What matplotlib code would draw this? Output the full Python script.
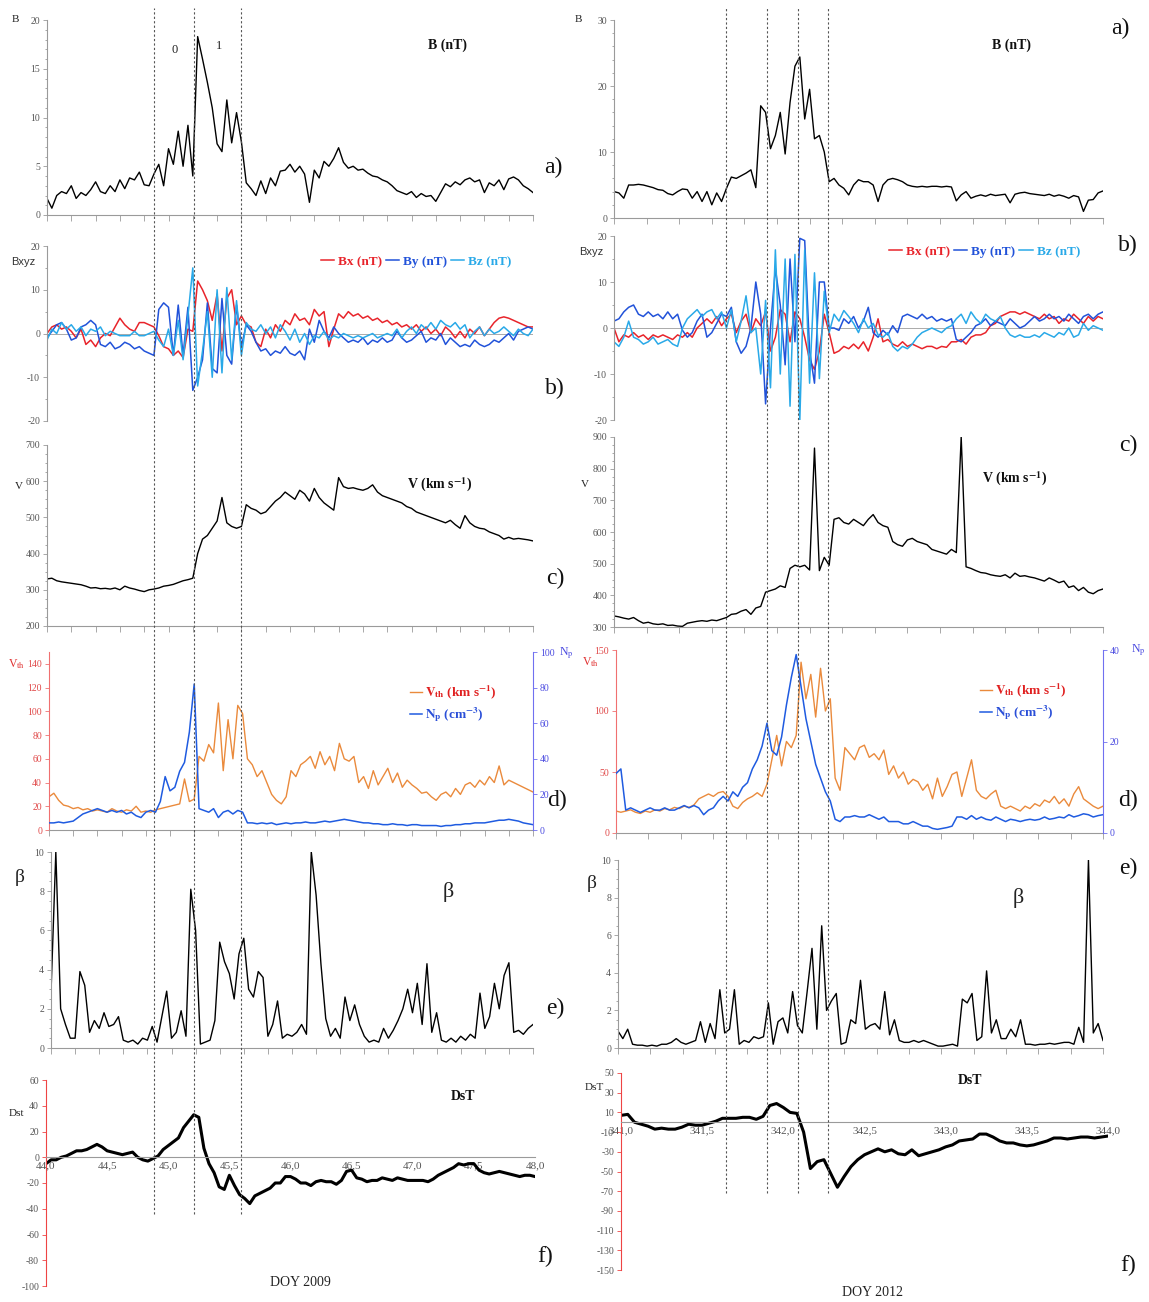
import numpy as np
import matplotlib
matplotlib.use("Agg")
import matplotlib.pyplot as plt
from matplotlib.lines import Line2D
from matplotlib.ticker import MultipleLocator, NullFormatter, FuncFormatter

# ---------------- data ----------------
# 2009 event, DOY 44.0 - 48.0, samples every 0.04 day
b_2009 = [1.7, 0.7, 2.0, 2.4, 2.2, 3.0, 1.7, 2.3, 2.0, 2.6,
          3.4, 2.4, 2.2, 3.0, 2.4, 3.6, 2.7, 3.8, 3.6, 4.4,
          3.1, 3.0, 4.2, 5.2, 3.0, 6.8, 5.2, 8.6, 5.0, 9.2,
          4.0, 18.3, 16.0, 13.6, 11.0, 7.3, 6.5, 11.8, 7.4, 10.5,
          7.5, 3.3, 2.7, 2.0, 3.5, 2.2, 3.8, 3.0, 4.5, 4.6,
          5.2, 4.4, 5.0, 4.2, 1.3, 4.6, 3.8, 5.5, 5.0, 5.8,
          6.9, 5.4, 4.8, 5.0, 4.6, 4.7, 4.3, 4.0, 3.9, 3.6,
          3.4, 3.0, 2.5, 2.3, 2.1, 2.4, 1.8, 2.2, 1.9, 2.0,
          1.4, 2.3, 3.2, 2.9, 3.4, 3.1, 3.6, 3.8, 3.4, 3.6,
          2.3, 3.3, 3.0, 3.6, 2.6, 3.7, 3.9, 3.6, 3.0, 2.7, 2.3]
bx_2009 = [0, 1.5, 2.0, 1.0, 1.5, 0.5, -1.0, 1.0, -2.5, -1.5,
           -3.0, -1.0, 0, -0.5, 1.5, 3.5, 2.0, 1.0, 0.5, 2.5,
           2.5, 2.0, 1.5, -0.5, -3.0, -3.5, -5.0, -4.0, -5.5, 1.0,
           0.5, 12.0, 10.0, 7.5, 3.0, 9.0, -4.0, 8.0, 10.0, 2.0,
           4.0, 2.0, 1.5, -2.0, -3.0, 1.0, -1.0, 2.0, 0.5, 3.0,
           2.0, 4.5, 3.0, 3.5, 2.0, 5.5, 4.0, 5.0, -3.0, 1.0,
           4.5, 3.5, 5.0, 4.0, 4.5, 3.5, 4.0, 3.0, 3.5, 2.5,
           3.0, 2.0, 2.5, 1.5, 2.0, 1.0, 2.0, 0.5, 1.5, 0,
           1.0, -0.5, 1.5, 0.5, -1.0, 0.5, -1.0, 1.0, 0, 1.5,
           -0.5, 1.0, 2.5, 3.5, 3.8, 3.5, 3.0, 2.5, 2.0, 1.5, 1.5]
by_2009 = [-1.0, 0.5, 2.0, 2.5, 1.0, -1.5, -1.0, 1.5, 2.0, 3.0,
           2.0, -2.5, -3.0, -2.0, -3.5, -3.0, -2.0, -2.5, -3.5, -3.0,
           -4.0, -4.5, -5.0, 5.5, 7.0, 6.0, -5.0, 6.5, -5.0, 6.0,
           -13.0, -10.0, -6.0, 7.0, -8.0, -9.0, 8.0, -5.0, -7.0, 6.5,
           -3.0, 2.0, 0.5, -2.0, -4.0, -3.5, -5.0, -4.0, -4.5, -3.0,
           -4.5, -5.0, -4.0, -6.0, 1.0, -2.0, 3.0, 0.5, -1.0, 1.5,
           0, -1.0, -2.0, -1.5, -2.0, -1.0, -2.5, -1.5, -2.0, -1.0,
           -2.0, -1.5, 0.5, -1.0, -2.0, -1.5, -0.5, 0.5, -2.0, -1.0,
           -1.5, 0, -2.5, -1.0, -2.0, -3.0, -2.5, -3.0, -1.5, -2.5,
           -3.0, -2.5, -1.5, -2.0, -1.0, 0, -1.5, 0.5, 1.0, 1.5, 1.0]
bz_2009 = [-1.5, 1.0, 0, 2.5, 1.0, 2.0, 0.5, 1.5, -0.5, 1.0,
           0.5, 1.5, -0.5, 0.5, 0, -0.5, -0.5, -0.5, 0.5, -0.5,
           -0.5, 0, 0.5, -1.5, -3.0, 1.0, -5.0, 3.0, -6.0, 4.0,
           15.0, -12.0, -4.0, 5.0, -10.0, 10.0, -9.0, 10.5, -6.0, 7.5,
           -5.0, 2.5, 1.0, 0.5, 2.0, 0, 1.5, -1.0, 2.0, 0.5,
           -1.5, 1.0, -2.0, 0, -2.5, -0.5, -1.0, 0.5, -1.5, -0.5,
           -1.0, 0, -0.5, -1.0, -0.5, -1.0, -0.5, 0, -1.0, -0.5,
           0, -0.5, 1.0, -1.0, 0.5, 1.5, 0, 2.0, 1.0, 2.5,
           1.0, 3.0, 2.0, 1.5, 2.5, 1.0, 2.0, -1.0, 0.5, 1.5,
           -0.5, 1.0, 0, 0.5, 1.5, 0.5, -0.5, 1.0, 0, -0.5, 1.0]
v_2009 = [330, 332, 325, 322, 320, 318, 316, 314, 310, 305,
          306, 303, 304, 302, 305, 300, 310, 305, 302, 298,
          295, 300, 302, 305, 310, 312, 315, 320, 325, 328,
          332, 400, 440, 450, 470, 490, 555, 485, 475, 470,
          475, 535, 525, 520, 510, 515, 530, 545, 555, 570,
          560, 550, 575, 565, 545, 580, 555, 540, 530, 520,
          610, 585, 580, 582, 578, 575, 580, 590, 570, 560,
          555, 550, 545, 540, 530, 525, 515, 510, 505, 500,
          495, 490, 485, 492, 480, 470, 505, 485, 475, 470,
          468, 460, 455, 450, 440, 445, 440, 442, 440, 438, 435]
vth_2009 = [28, 31, 25, 21, 20, 18, 19, 17, 18, 16,
            17, 16, 15, 18, 16, 15, 17, 16, 20, 15,
            16, 15, 17, 18, 19, 20, 21, 22, 43, 24,
            26, 62, 58, 72, 65, 107, 50, 93, 60, 105,
            98, 60, 55, 45, 50, 40, 30, 25, 22, 28,
            50, 45, 55, 58, 62, 52, 66, 55, 62, 50,
            73, 60, 58, 62, 40, 45, 35, 50, 38, 45,
            52, 40, 48, 36, 42, 38, 35, 31, 32, 28,
            25, 30, 32, 28, 35, 30, 38, 40, 36, 42,
            38, 45, 40, 54, 38, 42, 40, 38, 36, 34, 32]
np_2009 = [4, 4, 4.5, 4, 4.5, 5, 7, 9, 10, 11,
           12, 11, 10, 11, 10, 11, 9, 10, 8, 7,
           10, 11, 10, 16, 30, 22, 24, 33, 38, 55,
           82, 12, 11, 10, 12, 7, 10, 11, 9, 11,
           10, 4, 4, 3.5, 4, 3.5, 4, 3, 3.5, 4,
           3.5, 4, 4, 4.5, 4, 4, 4.5, 5, 4.5, 5,
           5.5, 6, 5.5, 5, 4.5, 4, 4, 3.5, 3.5, 3,
           3, 3.5, 3, 3, 2.5, 3, 3, 2.5, 2.5, 2.5,
           2.5, 2, 2.5, 2.5, 3, 3, 3.5, 3.5, 4, 4,
           4, 4.5, 5, 5.5, 5.5, 6, 5.5, 5, 4, 3.5, 3]
beta_2009 = [2.8, 10.0, 2.0, 1.2, 0.5, 0.5, 3.9, 3.2, 0.8, 1.4,
             1.0, 1.8, 1.1, 1.2, 1.6, 0.4, 0.3, 0.4, 0.2, 0.5,
             0.4, 1.1, 0.3, 1.6, 2.9, 0.5, 0.8, 1.9, 0.6, 8.1,
             6.0, 0.2, 0.3, 0.4, 1.4, 5.4, 4.4, 3.8, 2.5, 4.8,
             5.6, 3.0, 2.6, 3.9, 3.6, 0.6, 1.2, 2.4, 0.5, 0.7,
             0.6, 0.8, 1.2, 0.7, 10.0, 7.8, 4.3, 1.5, 0.6, 1.0,
             0.5, 2.6, 1.4, 2.2, 1.2, 0.6, 0.3, 0.4, 0.3, 1.0,
             0.5, 0.9, 1.4, 2.0, 3.0, 1.8, 3.3, 1.2, 4.3, 0.8,
             1.8, 0.4, 0.3, 0.5, 0.3, 0.6, 0.4, 0.7, 0.5, 2.8,
             1.0, 1.6, 3.3, 2.0, 3.7, 4.35, 0.8, 0.9, 0.7, 1.0, 1.2]
# hourly Dst, DOY 44.0 - 48.0
dst_2009 = [-5, -2, -2, 0, 1, 3, 5, 5, 6, 8, 10, 8, 5, 4, 3, 2, 3, 4, 0, -2,
            -3, -1, 1, 6, 9, 12, 15, 23, 28, 33, 31, 7, -5, -12, -23, -25, -14, -22, -29, -32,
            -36, -30, -28, -26, -24, -20, -20, -15, -15, -17, -20, -20, -22, -19, -18, -19, -19, -21, -18, -11,
            -10, -16, -17, -19, -18, -18, -16, -17, -18, -16, -17, -18, -18, -18, -18, -19, -17, -14, -12, -10,
            -8, -5, -6, -5, -5, -10, -12, -13, -12, -11, -12, -13, -14, -15, -14, -14, -15]
events_2009 = [44.88, 45.21, 45.60]

# 2012 event, DOY 341.0 - 344.0, samples every 0.03 day
b_2012 = [4.0, 3.8, 3.0, 5.0, 5.0, 5.1, 5.0, 4.8, 4.6, 4.3,
          4.2, 3.7, 3.5, 4.0, 4.4, 4.3, 3.0, 4.0, 2.5, 4.0,
          2.0, 3.8, 2.5, 4.5, 6.2, 6.0, 6.4, 6.8, 7.3, 4.6,
          17.0, 16.0, 10.5, 12.5, 16.0, 9.7, 17.5, 23.0, 24.4, 15.0,
          19.5, 12.0, 12.5, 10.0, 5.5, 6.0, 5.0, 4.5, 3.5, 5.0,
          5.8, 5.5, 5.5, 5.0, 2.5, 5.0, 5.8, 6.0, 5.8, 5.5,
          5.0, 4.8, 4.7, 4.8, 4.7, 4.8, 4.8, 4.7, 4.8, 4.7,
          2.6, 3.5, 4.0, 3.0, 3.3, 3.5, 3.3, 3.6, 3.4, 3.5,
          3.6, 2.3, 3.6, 3.8, 3.9, 3.7, 3.6, 3.5, 3.4, 3.6,
          3.3, 3.5, 3.3, 3.0, 3.4, 3.2, 1.0, 2.7, 2.8, 3.8, 4.1]
bx_2012 = [0, -3.0, -1.5, -2.0, -1.0, -2.0, -1.5, -2.5, -1.5, -2.0,
           -1.5, -2.0, -2.5, -1.5, -2.0, -1.0, -2.0, 0, 1.0, 2.0,
           1.0, 2.5, 0.5, 2.0, 3.0, -1.0, 1.5, 3.0, -1.0, 2.0,
           0.5, 3.5, -5.0, -2.0, 4.0, 3.0, -3.0, 3.5, 2.0, -2.0,
           -7.0, -9.0, -5.0, 3.0, -1.0, -5.5, -5.0, -4.0, -4.5, -3.5,
           -4.5, -3.0, -5.0, -2.0, 2.0, -3.0, -2.5, -3.5, -4.0, -3.0,
           -4.0, -3.5, -4.0, -4.5, -4.0, -4.0, -4.5, -4.0, -4.2, -3.0,
           -3.0, -2.5, -3.5, -2.0, -1.5, -1.5, -1.0, 0.5, 1.0, 2.5,
           3.0, 3.5, 3.5, 3.0, 3.5, 3.0, 2.5, 2.0, 3.0, 2.0,
           2.5, 1.0, 2.0, 1.5, 3.0, 2.0, 1.0, 2.5, 1.5, 2.5, 2.0]
by_2012 = [1.5, 2.0, 3.5, 4.5, 5.0, 3.0, 2.5, 3.5, 2.5, 3.0,
           2.0, 3.5, 2.0, 3.0, -0.5, -2.0, -1.0, 1.5, 3.0, -2.0,
           -1.0, 1.0, 3.0, 2.5, 4.5, -3.0, -5.5, -4.0, 0, 10.0,
           3.0, -16.5, 0, 13.0, 5.0, -8.0, 15.0, -3.0, 19.5, 19.0,
           -5.0, -12.0, 10.0, 10.0, 0, 0, -0.5, 2.0, 1.0, 2.5,
           0, 1.5, 4.5, -1.0, -2.0, -0.5, -1.5, 0.5, -1.0, 2.5,
           3.0, 2.5, 2.0, 3.0, 2.0, 2.5, 1.5, 2.0, 1.5, 2.0,
           -2.5, -3.0, -2.0, -1.0, 0.5, 1.0, 2.0, 0.5, 1.5, 1.0,
           0.5, 2.0, 1.0, 0, 0.5, 1.5, 2.5, 1.5, 2.0, 3.0,
           2.0, 2.5, 1.5, 3.0, 2.0, 1.0, 2.5, 3.0, 2.0, 3.0, 3.5]
bz_2012 = [-3.0, -4.0, -2.0, 1.5, -2.0, -2.5, -3.5, -3.0, -2.0, -3.5,
           -3.0, -2.5, -3.5, -4.0, 0, 2.0, 3.0, 4.0, 2.5, 3.5,
           4.0, 2.0, 3.5, 0, 4.0, -3.0, 1.5, 7.0, -1.0, 0,
           -10.0, 6.0, -13.0, 17.0, -10.0, 15.0, -17.0, 16.0, -20.0, 17.0,
           -12.0, 12.0, -11.0, 8.0, -1.0, 3.0, 1.5, 3.8, 2.5, 1.0,
           -1.0, 2.0, 0, 1.0, -1.5, -2.0, -1.0, -4.0, -5.0, -4.0,
           -4.5, -3.5, -2.0, -1.0, -0.5, 0, -0.5, -1.0, 0, 0.5,
           2.0, 3.0, 1.0, 3.5, 2.0, 1.0, 3.0, 2.0, 1.5, 2.5,
           0, -1.5, -2.0, -1.5, -2.0, -2.0, -1.5, -2.0, -1.0, -1.5,
           -2.0, -1.0, -1.5, 0, -2.0, -1.5, 1.0, -0.5, 0.5, 0, -0.5]
v_2012 = [335, 332, 328, 325, 330, 320, 312, 315, 310, 308,
          310, 305, 306, 303, 302, 312, 315, 318, 320, 318,
          322, 320, 325, 330, 340, 342, 350, 355, 340, 360,
          365, 410, 415, 420, 430, 425, 485, 495, 490, 495,
          480, 865, 478, 520, 495, 640, 645, 630, 625, 640,
          630, 620, 640, 655, 630, 620, 615, 570, 560, 555,
          575, 580, 570, 565, 560, 545, 540, 535, 530, 545,
          535, 900, 490, 485, 478, 472, 470, 465, 462, 460,
          465, 455, 470, 460, 462, 458, 455, 450, 445, 455,
          448, 440, 445, 425, 430, 415, 425, 410, 405, 415, 420]
vth_2012 = [18, 17, 18, 19, 17, 16, 18, 17, 19, 18,
            20, 19, 21, 20, 22, 21, 23, 28, 30, 32,
            30, 33, 34, 30, 22, 20, 25, 28, 30, 33,
            30, 40, 60, 80, 55, 75, 70, 80, 140, 110,
            130, 95, 135, 100, 110, 45, 35, 70, 65, 60,
            70, 72, 62, 65, 60, 68, 48, 55, 45, 50,
            40, 44, 42, 35, 40, 28, 45, 30, 38, 48,
            50, 30, 45, 60, 35, 30, 28, 32, 35, 22,
            20, 22, 20, 18, 22, 20, 24, 22, 27, 25,
            30, 24, 28, 22, 32, 38, 28, 25, 22, 20, 22]
np_2012 = [13, 14, 5, 5.5, 5, 4.5, 5, 5.5, 5, 5,
           5.5, 5, 5, 5.5, 6, 5.5, 6, 5.5, 4, 5,
           5.5, 7, 8, 7, 9, 8, 10, 11, 14, 16,
           19, 24, 18, 17, 21, 28, 34, 39, 32, 25,
           20, 15, 12, 9, 7, 3, 2.5, 3.5, 3.5, 3.8,
           3.5, 3.5, 4, 3.5, 3, 3.5, 2.5, 2.5, 2.5, 2,
           2, 2.5, 2, 1.5, 1.5, 1, 0.8, 1, 1.2, 1.5,
           3.5, 3.5, 3, 3.8, 3, 3.5, 3, 2.8, 3.5, 3,
           2.5, 3, 2.8, 2.5, 2.8, 3, 2.8, 3, 3.5, 3,
           3.2, 3.5, 3.3, 4, 3.5, 3.8, 4.2, 4, 3.5, 3.8, 4]
beta_2012 = [0.9, 0.5, 1.0, 0.2, 0.15, 0.15, 0.1, 0.15, 0.1, 0.2,
             0.2, 0.3, 0.5, 0.3, 0.2, 0.3, 0.4, 1.4, 0.3, 1.3,
             0.5, 3.1, 0.8, 1.0, 3.1, 0.2, 0.4, 0.3, 0.6, 0.5,
             0.6, 2.4, 0.2, 1.4, 1.6, 0.8, 3.0, 1.2, 0.8, 3.0,
             5.3, 1.0, 6.5, 2.0, 2.5, 2.9, 0.2, 0.3, 1.5, 1.3,
             3.6, 1.0, 1.2, 1.3, 1.0, 3.0, 0.7, 1.5, 0.4, 0.3,
             0.3, 0.4, 0.3, 0.4, 0.3, 0.2, 0.1, 0.1, 0.15, 0.2,
             0.1, 2.6, 2.4, 2.9, 0.4, 0.6, 4.1, 0.8, 1.5, 0.5,
             0.5, 1.0, 0.6, 1.5, 0.2, 0.2, 0.15, 0.2, 0.2, 0.25,
             0.2, 0.25, 0.3, 0.3, 0.2, 1.1, 0.3, 10.0, 0.8, 1.3, 0.4]
# hourly Dst, DOY 341.0 - 344.0
dst_2012 = [7, 8, 0, -2, -4, -7, -6, -7, -7, -5, -2, -3, -3, -1, 1, 4, 4, 4, 5, 5,
            3, 6, 17, 19, 15, 10, 9, -10, -47, -40, -38, -52, -66, -55, -45, -38, -33, -30, -27, -30,
            -28, -32, -33, -28, -34, -32, -30, -28, -25, -23, -19, -18, -17, -12, -12, -15, -19, -21, -21, -23,
            -24, -23, -21, -19, -16, -16, -17, -16, -15, -15, -16, -15, -14]
events_2012 = [341.69, 341.94, 342.13, 342.31]

# ---------------- figure ----------------
W, H = 1149, 1302
plt.rcParams['font.family'] = ['Liberation Serif', 'DejaVu Serif']
plt.rcParams['mathtext.fontset'] = 'stix'
plt.rcParams['axes.unicode_minus'] = False

RED = '#e8242b'
BLUE = '#2152d9'
SKY = '#29a9e8'
ORANGE = '#ea8a3c'
NPBLUE = '#1f5be0'
GREY = '#9a9a9a'

fig = plt.figure(figsize=(W / 100, H / 100), dpi=100)


def box(x0, y0, x1, y1):
    # pixel box (top-left origin) -> axes
    return fig.add_axes([x0 / W, 1 - y1 / H, (x1 - x0) / W, (y1 - y0) / H])


def label(x, y, s, **kw):
    kw.setdefault('ha', 'center')
    kw.setdefault('va', 'center')
    fig.text(x / W, 1 - y / H, s, **kw)


def style(ax, xlim, ylim, yticks, yminor=None, left_color=GREY, xaxis=True):
    ax.set_xlim(*xlim)
    ax.set_ylim(*ylim)
    ax.patch.set_alpha(0)
    for s in ('top', 'right'):
        ax.spines[s].set_visible(False)
    ax.spines['left'].set_color(left_color)
    ax.spines['bottom'].set_color(GREY)
    ax.spines['left'].set_linewidth(0.8)
    ax.spines['bottom'].set_linewidth(0.8)
    ax.set_yticks(yticks)
    if yminor:
        ax.yaxis.set_minor_locator(MultipleLocator(yminor))
    ax.xaxis.set_major_locator(MultipleLocator(0.2))
    ax.xaxis.set_major_formatter(NullFormatter())
    ax.tick_params(axis='y', which='both', color=left_color, labelcolor='#555555',
                   labelsize=7, length=3, width=0.6, pad=2)
    ax.tick_params(axis='y', which='minor', length=1.5)
    ax.tick_params(axis='x', color=GREY, length=4, width=0.6)
    if not xaxis:
        ax.spines['bottom'].set_visible(False)
        ax.tick_params(axis='x', length=0)


comma = FuncFormatter(lambda v, p: f"{v:.1f}".replace('.', ','))

columns = [
    dict(xlim=(44.0, 48.0), ax_x=(47, 533), f_x=(46, 535), events=events_2009,
         b=b_2009, bx=bx_2009, by=by_2009, bz=bz_2009, v=v_2009, vth=vth_2009,
         np_=np_2009, beta=beta_2009, dst=dst_2009,
         a_box=(20, 215), a_lim=(0, 20), a_ticks=np.arange(0, 21, 5),
         b_box=(246, 421), c_box=(445, 626), c_lim=(200, 700),
         d_box=(652, 830), np_lim=(0, 100), np_ticks=np.arange(0, 101, 20),
         vth_ticks=np.arange(0, 141, 20),
         e_box=(852, 1048), f_box=(1080, 1286), f_lim=(-100, 60),
         f_ticks=np.arange(-100, 61, 20), dash_end=-44),
    dict(xlim=(341.0, 344.0), ax_x=(614, 1103), f_x=(621, 1108), events=events_2012,
         b=b_2012, bx=bx_2012, by=by_2012, bz=bz_2012, v=v_2012, vth=vth_2012,
         np_=np_2012, beta=beta_2012, dst=dst_2012,
         a_box=(20, 218), a_lim=(0, 30), a_ticks=np.arange(0, 31, 10),
         b_box=(236, 420), c_box=(437, 627), c_lim=(300, 900),
         d_box=(650, 833), np_lim=(0, 40), np_ticks=np.arange(0, 41, 20),
         vth_ticks=np.arange(0, 151, 50),
         e_box=(860, 1048), f_box=(1073, 1270), f_lim=(-150, 50),
         f_ticks=np.arange(-150, 51, 20), dash_end=-72),
]

for col in columns:
    x0, x1 = col['ax_x']
    t = np.linspace(col['xlim'][0], col['xlim'][1], len(col['b']))
    th = np.linspace(col['xlim'][0], col['xlim'][1], len(col['dst']))

    # a) |B|
    ax_a = box(x0, col['a_box'][0], x1, col['a_box'][1])
    style(ax_a, col['xlim'], col['a_lim'], col['a_ticks'], yminor=col['a_ticks'][1] / 5)
    ax_a.plot(t, col['b'], color='black', lw=1.0)

    # b) components
    ax_b = box(x0, col['b_box'][0], x1, col['b_box'][1])
    style(ax_b, col['xlim'], (-20, 20), np.arange(-20, 21, 10), yminor=5, xaxis=False)
    ax_b.axhline(0, color='#aaaaaa', lw=0.7)
    ax_b.plot(t, col['bx'], color=RED, lw=1.1, label='Bx (nT)')
    ax_b.plot(t, col['by'], color=BLUE, lw=1.1, label='By (nT)')
    ax_b.plot(t, col['bz'], color=SKY, lw=1.1, label='Bz (nT)')
    ax_b.legend(loc='center', bbox_to_anchor=(((x0 + x1) / 2 + 126) / W, 1 - (col['b_box'][0] + 16) / H),
                bbox_transform=fig.transFigure, ncol=3, frameon=False, handlelength=1.0,
                handletextpad=0.3, columnspacing=0.3, labelcolor='linecolor',
                prop=dict(family='Liberation Serif', weight='bold', size=9.5))

    # c) V
    ax_c = box(x0, col['c_box'][0], x1, col['c_box'][1])
    style(ax_c, col['xlim'], col['c_lim'], np.arange(col['c_lim'][0], col['c_lim'][1] + 1, 100), yminor=25)
    ax_c.plot(t, col['v'], color='black', lw=1.0)

    # d) Vth and Np
    ax_d = box(x0 + 2, col['d_box'][0], x1, col['d_box'][1])
    style(ax_d, col['xlim'], (0, 150), col['vth_ticks'], left_color='#f07070')
    ax_d.tick_params(axis='y', labelcolor='#e04848')
    l1, = ax_d.plot(t, col['vth'], color=ORANGE, lw=1.0)
    ax_n = ax_d.twinx()
    ax_n.set_ylim(*col['np_lim'])
    ax_n.set_yticks(col['np_ticks'])
    for s in ('top', 'left', 'bottom'):
        ax_n.spines[s].set_visible(False)
    ax_n.spines['right'].set_color('#7070f0')
    ax_n.tick_params(axis='y', color='#7070f0', labelcolor='#4a4ae0', labelsize=7, length=3, width=0.6, pad=2)
    l2, = ax_n.plot(t, col['np_'], color=NPBLUE, lw=1.1)
    ax_n.legend([l1, l2], [r"$\mathbf{V_{th}}$ (km s$^{\mathbf{-1}}$)", r"$\mathbf{N_p}$ (cm$^{\mathbf{-3}}$)"],
                loc='center', bbox_to_anchor=((x1 - 80) / W, 1 - (col['d_box'][0] + 52) / H),
                bbox_transform=fig.transFigure, frameon=False, handlelength=0.9, handletextpad=0.2,
                labelspacing=0.35, labelcolor=['#e02020', '#2a4fd8'],
                prop=dict(family='Liberation Serif', weight='bold', size=9.5))

    # e) beta
    ax_e = box(x0 + 4, col['e_box'][0], x1, col['e_box'][1])
    style(ax_e, col['xlim'], (0, 10), np.arange(0, 11, 2), yminor=0.5)
    ax_e.plot(t, col['beta'], color='black', lw=1.0)

    # f) Dst
    fx0, fx1 = col['f_x']
    ax_f = box(fx0, col['f_box'][0], fx1, col['f_box'][1])
    style(ax_f, col['xlim'], col['f_lim'], col['f_ticks'], left_color='#ee4444')
    ax_f.spines['bottom'].set_position(('data', 0))
    ax_f.xaxis.set_major_locator(MultipleLocator(0.5))
    ax_f.xaxis.set_major_formatter(comma)
    ax_f.tick_params(axis='x', length=0, pad=3, labelsize=8, labelcolor='#555555')
    ax_f.plot(th, col['dst'], color='black', lw=2.2)

    # event markers crossing all panels
    inv = fig.transFigure.inverted()
    for d in col['events']:
        xf, ytop = inv.transform(ax_a.transData.transform((d, col['a_lim'][1])))
        _, ybot = inv.transform(ax_f.transData.transform((col['xlim'][0], col['dash_end'])))
        fig.add_artist(Line2D([xf, xf], [ybot, ytop + 12 / H], color='#555555', lw=0.8,
                              linestyle=(0, (2, 2))))

    col['ax_a'] = ax_a

# ---------------- labels ----------------
lab = dict(family='Liberation Serif', color='#222222')
big = dict(family='Liberation Serif', fontsize=17, color='#111111')
bold = dict(family='Liberation Serif', fontsize=10, fontweight='bold', color='#111111')

# left column (2009)
label(15, 20, "B", fontsize=8, **lab)
label(447, 45, "B (nT)", **bold)
label(553, 167, "a)", **big)
ax_l = columns[0]['ax_a']
ax_l.text(45.05, 16.9, "0", fontsize=9, ha='center', va='center', **lab)
ax_l.text(45.42, 17.3, "1", fontsize=9, ha='center', va='center', **lab)
label(23, 262, "Bxyz", fontsize=8, family='Liberation Sans', color='#333333')
label(555, 388, "b)", **big)
label(19, 487, "V", fontsize=8, **lab)
label(440, 485, r"V (km s$^{\mathbf{-1}}$)", **bold)
label(555, 578, "c)", **big)
label(17, 664, r"V$_{\rm th}$", fontsize=8.5, family='Liberation Serif', color='#e03030')
label(566, 653, r"N$_{\rm p}$", fontsize=8.5, family='Liberation Serif', color='#4a4ae0')
label(557, 800, "d)", **big)
label(20, 877, "β", fontsize=14, **lab)
label(448, 892, "β", fontsize=16, **lab)
label(555, 1008, "e)", **big)
label(16, 1114, "Dst", fontsize=8, **lab)
label(463, 1097, "DsT", **bold)
label(545, 1256, "f)", **big)
label(300, 1283, "DOY 2009", fontsize=10, **lab)

# right column (2012)
label(578, 20, "B", fontsize=8, **lab)
label(1012, 45, "B (nT)", **bold)
label(1120, 28, "a)", **big)
label(591, 252, "Bxyz", fontsize=8, family='Liberation Sans', color='#333333')
label(1128, 245, "b)", **big)
label(585, 485, "V", fontsize=8, **lab)
label(1015, 479, r"V (km s$^{\mathbf{-1}}$)", **bold)
label(1128, 445, "c)", **big)
label(591, 662, r"V$_{\rm th}$", fontsize=8.5, family='Liberation Serif', color='#e03030')
label(1138, 650, r"N$_{\rm p}$", fontsize=8.5, family='Liberation Serif', color='#4a4ae0')
label(1128, 800, "d)", **big)
label(592, 883, "β", fontsize=14, **lab)
label(1018, 898, "β", fontsize=16, **lab)
label(1128, 868, "e)", **big)
label(594, 1087, "DsT", fontsize=8, **lab)
label(970, 1081, "DsT", **bold)
label(1128, 1265, "f)", **big)
label(872, 1293, "DOY 2012", fontsize=10, **lab)

fig.savefig("out.png", dpi=100)
